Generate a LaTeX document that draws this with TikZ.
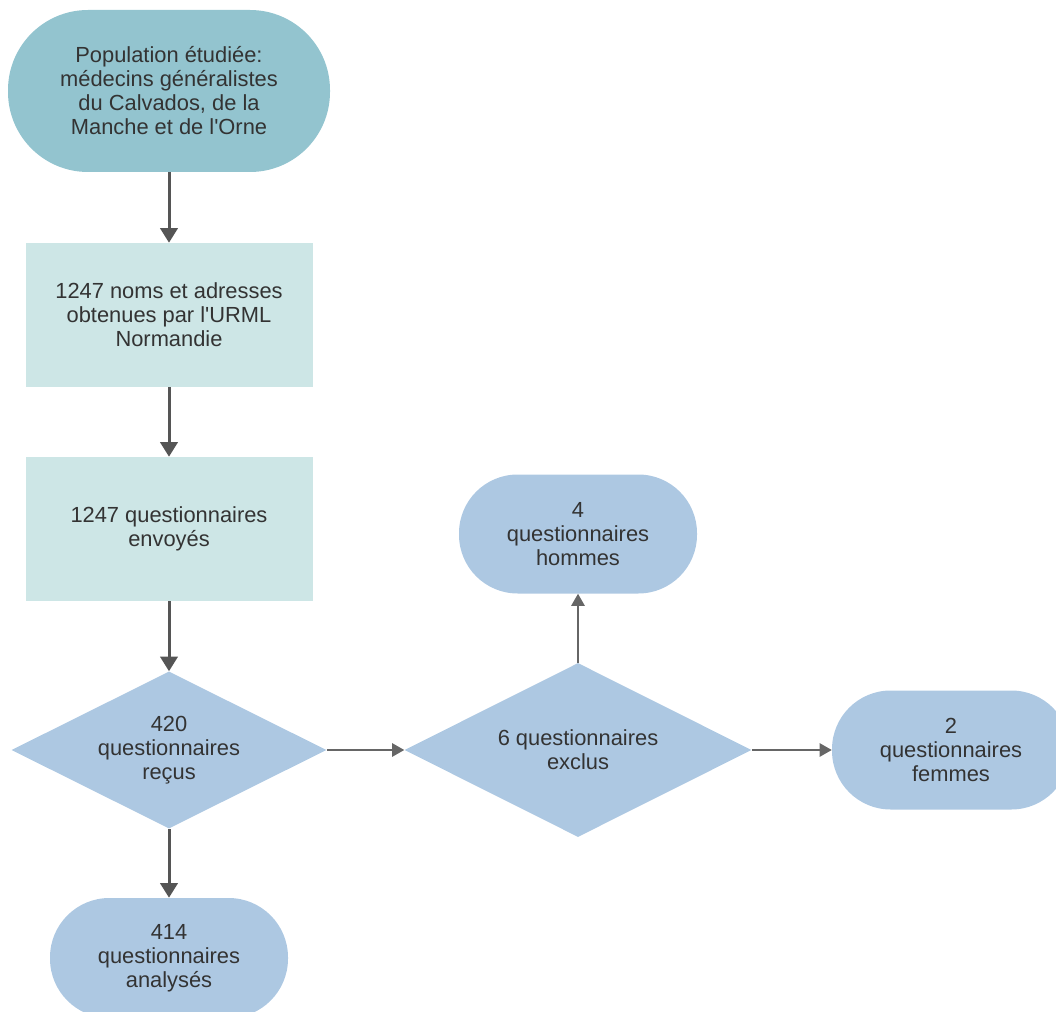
\documentclass[tikz,border=0pt]{standalone}
\usepackage{fontspec}
\setmainfont{Liberation Sans}
\usepackage{tikz}
\usetikzlibrary{arrows.meta, positioning, shapes.geometric}
\definecolor{pillTeal}{HTML}{93C4CF}
\definecolor{boxLight}{HTML}{CDE6E6}
\definecolor{shapeBlue}{HTML}{ADC8E2}
\definecolor{txtGray}{HTML}{333333}
\definecolor{arrDark}{HTML}{555555}
\definecolor{arrLight}{HTML}{666666}
\tikzset{
	every text node part/.style = {align=center},
	pill/.style = {rectangle, fill=#1, inner sep=0pt},
	flowbox/.style = {rectangle, fill=boxLight, inner sep=0pt, minimum width=215.25pt, minimum height=108pt},
	choice/.style = {diamond, fill=shapeBlue, inner sep=0pt},
	thickArr/.style = {color=arrDark, line width=2.25pt, -{Triangle[length=11pt, width=13pt]}},
	thinArr/.style = {color=arrLight, line width=1.1pt, -{Triangle[length=9pt, width=10pt]}}
}

\begin{document}
\begin{tikzpicture}[x=0.75pt, y=-0.75pt]
	\useasboundingbox (0,0) rectangle (1056,1012);
	\tikzstyle{every node}=[font=\fontsize{16.4}{18}\selectfont, text=txtGray]
	
	% main column
	\node [pill=pillTeal, minimum width=241.5pt, minimum height=121.5pt, rounded corners=60pt] (pop) at (169,91) {Population étudiée:\\médecins généralistes\\du Calvados, de la\\Manche et de l\textquotesingle Orne};
	\node [flowbox] (noms) at (169,315) {1247 noms et adresses\\obtenues par l\textquotesingle URML\\Normandie};
	\node [flowbox] (envoi) at (169,529) {1247 questionnaires\\envoyés};
	\node [choice, minimum width=236.25pt, minimum height=117.75pt] (recus) at (169,750) {};
	\node (recusTxt) at (recus) {420\\questionnaires\\reçus};
	\node [pill=shapeBlue, minimum width=178.5pt, minimum height=90pt, rounded corners=44.5pt] (analyses) at (169,958) {414\\questionnaires\\analysés};
	
	% exclusions
	\node [choice, minimum width=260.25pt, minimum height=130.5pt] (exclus) at (578,750) {};
	\node (exclusTxt) at (exclus) {6 questionnaires\\exclus};
	\node [pill=shapeBlue, minimum width=178.5pt, minimum height=89.25pt, rounded corners=44pt] (hommes) at (578,534) {4\\questionnaires\\hommes};
	\node [pill=shapeBlue, minimum width=178.5pt, minimum height=89.25pt, rounded corners=44pt] (femmes) at (951,750) {2\\questionnaires\\femmes};
	
	\draw [thickArr] (pop) -- (noms);
	\draw [thickArr] (noms) -- (envoi);
	\draw [thickArr] (envoi) -- (recus);
	\draw [thickArr] (recus) -- (analyses);
	\draw [thinArr] (recus.east) -- (exclus.west);
	\draw [thinArr] (exclus.north) -- (hommes.south);
	\draw [thinArr] (exclus.east) -- (femmes.west);
	
\end{tikzpicture}
\end{document}
